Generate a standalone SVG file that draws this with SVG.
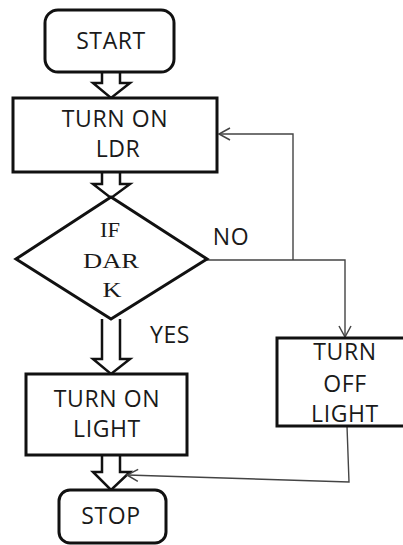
<svg xmlns="http://www.w3.org/2000/svg" width="403" height="545" viewBox="0 0 403 545">
<style>
.box{fill:#fff;stroke:#111;stroke-width:3}
.blk{fill:#fff;stroke:#111;stroke-width:2.5;stroke-linejoin:miter}
.t{font-family:"Open Sans","Liberation Sans",sans-serif;font-size:23px;letter-spacing:0.6px;fill:#1a1a1a;text-anchor:middle}
.s{font-family:"Liberation Serif","DejaVu Serif",serif;font-size:20.5px;fill:#1a1a1a;text-anchor:middle}
.c{fill:none;stroke:#444;stroke-width:1.4}
</style>
<defs>
<marker id="ah" markerUnits="userSpaceOnUse" markerWidth="14" markerHeight="16" refX="12" refY="7" orient="auto">
<path d="M1,1 L12,7 L1,13" fill="none" stroke="#444" stroke-width="1.5"/>
</marker>
</defs>
<g id="connectors">
<polyline class="blk" points="102,72 102,83 93,83 111,98 130,83 120,83 120,72"/>
<polyline class="blk" points="102,172 102,184 93,184 111,198 130,184 120,184 120,172"/>
<polyline class="blk" points="102,319 102,359 93,359 111,374 130,359 120,359 120,319"/>
<polyline class="blk" points="102,455 102,472 93,472 111,490 130,472 120,472 120,455"/>
<path class="c" d="M207,260 H345 V337" marker-end="url(#ah)"/>
<path class="c" d="M293,260 V134 H219" marker-end="url(#ah)"/>
<path class="c" d="M347,426 L349,482 L127,475" marker-end="url(#ah)"/>
<text class="t" x="231" y="245">NO</text>
<text class="t" x="170" y="343">YES</text>
</g>
<g id="start">
<rect class="box" x="45" y="10" width="129" height="62" rx="13"/>
<text class="t" x="111" y="49">START</text>
</g>
<g id="ldr">
<rect class="box" x="13" y="98" width="204" height="74"/>
<text class="t" x="115" y="127">TURN ON</text>
<text class="t" x="118" y="157">LDR</text>
</g>
<g id="dark">
<polygon class="box" points="111,197 207,259 111,319 16,259"/>
<text class="s" x="110" y="237" textLength="20" lengthAdjust="spacingAndGlyphs">IF</text>
<text class="s" x="111" y="268" textLength="56" lengthAdjust="spacingAndGlyphs">DAR</text>
<text class="s" x="112" y="297" textLength="19" lengthAdjust="spacingAndGlyphs">K</text>
</g>
<g id="light-on">
<rect class="box" x="26" y="374" width="161" height="81"/>
<text class="t" x="107" y="407">TURN ON</text>
<text class="t" x="107" y="437">LIGHT</text>
</g>
<g id="light-off">
<rect class="box" x="277" y="338" width="130" height="88"/>
<text class="t" x="345" y="360">TURN</text>
<text class="t" x="345" y="392">OFF</text>
<text class="t" x="345" y="422">LIGHT</text>
</g>
<g id="stop">
<rect class="box" x="59" y="490" width="107" height="53" rx="11"/>
<text class="t" x="111" y="524">STOP</text>
</g>
</svg>
